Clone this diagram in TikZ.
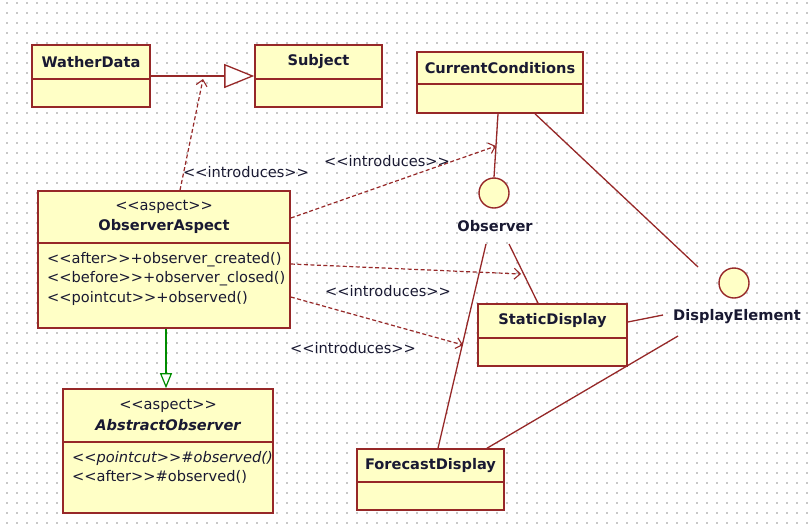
\documentclass[tikz,border=0pt]{standalone}
\usepackage{fontspec}
\setmainfont[Ligatures=TeXOff]{DejaVu Sans}
\usetikzlibrary{arrows.meta}

\definecolor{edge}{RGB}{150,40,40}
\definecolor{boxfill}{RGB}{255,255,198}
\definecolor{ink}{RGB}{25,25,50}
\definecolor{griddot}{RGB}{200,200,200}
\definecolor{genline}{RGB}{0,140,0}

\tikzset{
  txt/.style={text=ink, inner sep=0pt, font=\fontsize{14.6}{18.5}\selectfont},
  bold/.style={txt, font=\fontsize{14.6}{18.5}\selectfont\bfseries},
  bolditalic/.style={txt, font=\fontsize{14.6}{18.5}\selectfont\bfseries\itshape},
  classbox/.style={draw=edge, fill=boxfill, line width=1.6pt, rectangle, inner sep=0pt},
  lolli/.style={draw=edge, fill=boxfill, line width=1.4pt, circle, minimum size=30pt, inner sep=0pt},
  sepline/.style={draw=edge, line width=1.6pt},
  link/.style={draw=edge, line width=1.3pt},
  dep/.style={draw=edge, line width=1.2pt, dash pattern=on 4pt off 2.5pt,
    -{Straight Barb[length=6pt,width=11pt,line width=1.1pt]}},
}

\begin{document}
\begin{tikzpicture}[x=1pt, y=-1pt]
  % canvas and dotted grid
  \fill[white] (0,0) rectangle (810,523);
  \useasboundingbox (0,0) rectangle (810,523);
  \foreach \gy in {3,13,...,523}
    \draw[griddot, line width=1.1pt, dash pattern=on 1.1pt off 8.9pt] (6.4,\gy) -- (810,\gy);

  % ---- classes ----
  \node[classbox, minimum width=118pt, minimum height=62pt] (wd) at (91,76) {};
  \draw[sepline] (wd.west |- 0,79) -- (wd.east |- 0,79);
  \node[bold] (wdT) at (91,62) {WatherData};

  \node[classbox, minimum width=127pt, minimum height=62pt] (subj) at (318.5,76) {};
  \draw[sepline] (subj.west |- 0,79) -- (subj.east |- 0,79);
  \node[bold] (subjT) at (318.5,62) {Subject};

  \node[classbox, minimum width=166pt, minimum height=61pt] (cc) at (500,82.5) {};
  \draw[sepline] (cc.west |- 0,84) -- (cc.east |- 0,84);
  \node[bold] (ccT) at (500,68) {CurrentConditions};

  \node[classbox, minimum width=252pt, minimum height=137pt] (oa) at (164,259.5) {};
  \draw[sepline] (oa.west |- 0,243) -- (oa.east |- 0,243);
  \node[txt] (oaS) at (164,207) {<<aspect>>};
  \node[bold] (oaT) at (164,226) {ObserverAspect};
  \node[txt, anchor=west] (oaM1) at (47,260) {<<after>>+observer\_created()};
  \node[txt, anchor=west] (oaM2) at (47,279) {<<before>>+observer\_closed()};
  \node[txt, anchor=west] (oaM3) at (47,298) {<<pointcut>>+observed()};

  \node[classbox, minimum width=149pt, minimum height=62pt] (sd) at (552.5,335) {};
  \draw[sepline] (sd.west |- 0,338) -- (sd.east |- 0,338);
  \node[bold] (sdT) at (552.5,321) {StaticDisplay};

  \node[classbox, minimum width=147pt, minimum height=61pt] (fd) at (430.5,479.5) {};
  \draw[sepline] (fd.west |- 0,482) -- (fd.east |- 0,482);
  \node[bold] (fdT) at (430.5,466) {ForecastDisplay};

  \node[classbox, minimum width=210pt, minimum height=124pt] (ao) at (168,451) {};
  \draw[sepline] (ao.west |- 0,442) -- (ao.east |- 0,442);
  \node[txt] (aoS) at (168,406) {<<aspect>>};
  \node[bolditalic] (aoT) at (168,425) {AbstractObserver};
  \node[txt, anchor=west, font=\fontsize{14.6}{18.5}\selectfont\itshape] (aoM1) at (72,458) {<<pointcut>>\#observed()};
  \node[txt, anchor=west] (aoM2) at (72,477) {<<after>>\#observed()};

  % ---- interfaces (lollipops) ----
  \node[lolli] (obs) at (494,193) {};
  \node[bold] (obsL) at (495,226) {Observer};
  \node[lolli] (de) at (734,283) {};
  \node[bold] (deL) at (737,317) {DisplayElement};

  % ---- connector end points ----
  \coordinate (genMid) at (203,79);
  \coordinate (stemPt) at (496,146);
  \coordinate (obsSdPt) at (521,274);
  \coordinate (obsFdPt) at (463,345);
  \coordinate (deInCc) at (698,267);
  \coordinate (obsOutR) at (509,244);
  \coordinate (obsOutL) at (486,244);
  \coordinate (deOutL) at (663,315);
  \coordinate (deOutB) at (678,336);

  % ---- generalizations ----
  \draw[link, -{Triangle[open, fill=white, length=30pt, width=24pt, line width=1.3pt]}] (wd.east) -- (subj.west);
  \draw[genline, line width=1.3pt, -{Triangle[open, fill=white, length=15pt, width=12pt, line width=1.2pt]}]
    (oa.south -| 166,0) -- (ao.north -| 166,0);

  % ---- realizations ----
  \draw[link] (cc.south -| 498,0) -- (obs.north);
  \draw[link] (cc.south -| 535,0) -- (deInCc);
  \draw[link] (obsOutR) -- (sd.north -| 538,0);
  \draw[link] (obsOutL) -- (fd.north -| 438,0);
  \draw[link] (deOutL) -- (sd.east |- 0,322);
  \draw[link] (deOutB) -- (fd.north -| 487,0);

  % ---- introductions ----
  \draw[dep] (oa.north -| 180,0) -- (genMid);
  \draw[dep] (oa.east |- 0,218) -- (stemPt);
  \draw[dep] (oa.east |- 0,264) -- (obsSdPt);
  \draw[dep] (oa.east |- 0,297) -- (obsFdPt);

  \node[txt] (lbl1) at (246,172) {<<introduces>>};
  \node[txt] (lbl2) at (387,161) {<<introduces>>};
  \node[txt] (lbl3) at (388,291) {<<introduces>>};
  \node[txt] (lbl4) at (353,348) {<<introduces>>};
\end{tikzpicture}
\end{document}
